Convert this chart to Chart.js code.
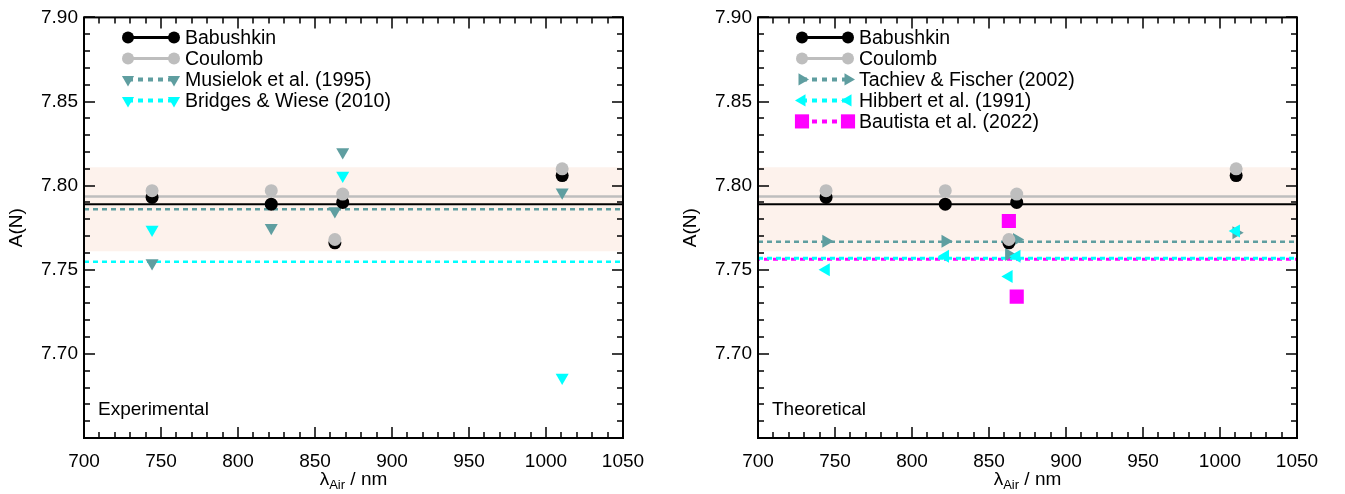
<!DOCTYPE html>
<html>
<head>
<meta charset="utf-8">
<title>A(N) by line</title>
<script src="https://cdn.jsdelivr.net/npm/chart.js@4.4.1/dist/chart.umd.min.js"></script>
<style>
  html, body { margin: 0; padding: 0; background: #fff; }
  #wrap { position: relative; width: 1345px; height: 494px; }
  canvas { position: absolute; top: 0; }
</style>
</head>
<body>
<div id="wrap">
  <canvas id="expChart" width="672" height="494" style="left:0"></canvas>
  <canvas id="theoChart" width="672" height="494" style="left:674px"></canvas>
</div>
<script>
// N I lines (air wavelength, nm)
const wavelengths = [744.2, 821.6, 862.9, 868.0, 1010.5];

// abundances per line from this work
const babushkin = [7.793, 7.789, 7.766, 7.790, 7.806];
const coulomb   = [7.797, 7.797, 7.768, 7.795, 7.810];

// experimental gf-values
const musielok = [7.754, 7.775, 7.785, 7.820, 7.796];
const bridgesWave = [744.2, 868.0, 1010.5];
const bridges = [7.774, 7.806, 7.686];

// theoretical gf-values
const tachiev = [7.767, 7.767, 7.759, 7.768, 7.772];
const hibbert = [7.750, 7.758, 7.746, 7.758, 7.773];
const bautistaWave = [862.9, 868.0];
const bautista = [7.779, 7.734];

// mean abundance of each set
const babushkinMean = 7.789;
const coulombMean = 7.7935;
const musielokMean = 7.786;
const bridgesMean = 7.7547;
const tachievMean = 7.7666;
const hibbertMean = 7.7568;
const bautistaMean = 7.7563;

// shaded uncertainty band
const bandRange = [7.761, 7.811];

// axes
const xRange = [700, 1050];
const yRange = [7.65, 7.90];
const xTickLabels = [700, 750, 800, 850, 900, 950, 1000, 1050];
const yTickLabels = [7.70, 7.75, 7.80, 7.85, 7.90];

const FONT = "'Liberation Sans', Arial, Helvetica, sans-serif";
const TEAL = '#5f9ea0';
const CYAN = '#00ffff';
const GREY = '#bebebe';
const MAGENTA = '#ff00ff';

Chart.defaults.font.family = FONT;
Chart.defaults.font.size = 19;
Chart.defaults.color = '#000';

function pts(xs, ys) {
  return xs.map((x, i) => ({ x: x, y: ys[i] }));
}

function level(v) {
  return [{ x: xRange[0], y: v }, { x: xRange[1], y: v }];
}

function meanLine(v, color, width, dash, offset) {
  return {
    data: level(v), showLine: true, borderColor: color, borderWidth: width,
    borderDash: dash || [], borderDashOffset: offset || 0,
    pointRadius: 0, order: 50
  };
}

function markers(xs, ys, color, style, radius, rotation, order) {
  return {
    data: pts(xs, ys), showLine: false, backgroundColor: color, borderWidth: 0,
    pointStyle: style, pointRadius: radius, pointRotation: rotation || 0,
    pointHoverRadius: radius, order: order
  };
}

const bandSet = {
  data: level(bandRange[1]), showLine: true, borderWidth: 0, pointRadius: 0,
  fill: { value: bandRange[0] }, backgroundColor: 'rgb(253,242,236)', order: 100
};

// box with inward ticks on all four sides
const framePlugin = {
  id: 'frame',
  afterDraw(chart) {
    const { ctx, chartArea: a, scales: { x, y } } = chart;
    ctx.save();
    ctx.strokeStyle = '#000';
    ctx.lineWidth = 1.5;
    ctx.beginPath();
    for (let v = xRange[0]; v <= xRange[1]; v += 10) {
      const px = Math.round(x.getPixelForValue(v));
      const len = v % 50 === 0 ? 11 : 6;
      ctx.moveTo(px, a.bottom); ctx.lineTo(px, a.bottom - len);
      ctx.moveTo(px, a.top); ctx.lineTo(px, a.top + len);
    }
    for (let i = 0; i <= 25; i++) {
      const py = Math.round(y.getPixelForValue(yRange[0] + i * 0.01));
      const len = i % 5 === 0 ? 11 : 6;
      ctx.moveTo(a.left, py); ctx.lineTo(a.left + len, py);
      ctx.moveTo(a.right, py); ctx.lineTo(a.right - len, py);
    }
    ctx.stroke();
    ctx.lineWidth = 2;
    ctx.strokeRect(a.left, a.top, a.right - a.left, a.bottom - a.top);
    ctx.restore();
  }
};

// legend rows, axis titles and the panel note
const notesPlugin = {
  id: 'notes',
  afterDraw(chart, args, opts) {
    const { ctx, chartArea: a } = chart;
    ctx.save();
    ctx.fillStyle = '#000';
    ctx.font = '19.5px ' + FONT;
    ctx.textBaseline = 'middle';

    opts.items.forEach((it, i) => {
      const yy = a.top + 20 + i * 21;
      const x0 = a.left + 44, x1 = a.left + 90;
      ctx.save();
      ctx.strokeStyle = it.color;
      ctx.lineWidth = it.width;
      ctx.setLineDash(it.dash || []);
      ctx.beginPath();
      ctx.moveTo(x0, yy); ctx.lineTo(x1, yy);
      ctx.stroke();
      ctx.setLineDash([]);
      ctx.fillStyle = it.color;
      [x0, x1].forEach(px => {
        Chart.helpers.drawPoint(ctx, {
          pointStyle: it.style, radius: it.radius, rotation: it.rotation || 0, borderWidth: 0
        }, px, yy);
      });
      ctx.restore();
      ctx.fillText(it.label, a.left + 101, yy + 1);
    });

    ctx.font = '19px ' + FONT;
    ctx.fillText(opts.note, a.left + 14, a.bottom - 28);

    // x title: lambda_Air / nm
    ctx.textBaseline = 'alphabetic';
    ctx.font = '19px ' + FONT;
    const cx = (a.left + a.right) / 2;
    const w1 = ctx.measureText('λ').width;
    const w3 = ctx.measureText(' / nm').width;
    ctx.font = '13px ' + FONT;
    const w2 = ctx.measureText('Air').width;
    let tx = cx - (w1 + w2 + w3) / 2;
    const by = 485;
    ctx.font = '19px ' + FONT;
    ctx.fillText('λ', tx, by);
    ctx.font = '13px ' + FONT;
    ctx.fillText('Air', tx + w1, by + 4);
    ctx.font = '19px ' + FONT;
    ctx.fillText(' / nm', tx + w1 + w2, by);

    // y title
    ctx.translate(a.left - 67, (a.top + a.bottom) / 2);
    ctx.rotate(-Math.PI / 2);
    ctx.textAlign = 'center';
    ctx.textBaseline = 'middle';
    ctx.fillText('A(N)', 0, 0);
    ctx.restore();
  }
};

function makeChart(id, datasets, items, note) {
  return new Chart(document.getElementById(id), {
    type: 'scatter',
    data: { datasets: datasets },
    options: {
      responsive: false,
      animation: false,
      devicePixelRatio: 1,
      layout: { padding: { top: 13, right: 49, left: 0, bottom: 0 } },
      scales: {
        x: {
          type: 'linear', min: xRange[0], max: xRange[1],
          grid: { display: false, drawTicks: false },
          border: { display: false },
          afterBuildTicks: s => { s.ticks = xTickLabels.map(v => ({ value: v })); },
          ticks: { maxRotation: 0, autoSkip: false, padding: 12, callback: v => String(v) },
          afterFit: s => { s.height = 56; }
        },
        y: {
          type: 'linear', min: yRange[0], max: yRange[1],
          grid: { display: false, drawTicks: false },
          border: { display: false },
          afterBuildTicks: s => { s.ticks = yTickLabels.map(v => ({ value: v })); },
          ticks: { padding: 6, callback: v => v.toFixed(2) },
          afterFit: s => { s.width = 84; }
        }
      },
      plugins: {
        legend: { display: false },
        tooltip: { enabled: false },
        notes: { items: items, note: note }
      }
    },
    plugins: [framePlugin, notesPlugin]
  });
}

const expChart = makeChart('expChart', [
  bandSet,
  meanLine(coulombMean, GREY, 2.5),
  meanLine(babushkinMean, '#000', 2),
  meanLine(musielokMean, TEAL, 2.5, [5, 4]),
  meanLine(bridgesMean, CYAN, 2.5, [5, 4]),
  markers(wavelengths, coulomb, GREY, 'circle', 6.5, 0, 1),
  markers(wavelengths, babushkin, '#000', 'circle', 6.5, 0, 2),
  markers(wavelengths, musielok, TEAL, 'triangle', 7.5, 180, 4),
  markers(bridgesWave, bridges, CYAN, 'triangle', 7.5, 180, 3)
], [
  { label: 'Babushkin', color: '#000', width: 3, style: 'circle', radius: 6 },
  { label: 'Coulomb', color: GREY, width: 3, style: 'circle', radius: 6 },
  { label: 'Musielok et al. (1995)', color: TEAL, width: 4, dash: [5, 5], style: 'triangle', radius: 7, rotation: 180 },
  { label: 'Bridges & Wiese (2010)', color: CYAN, width: 4, dash: [5, 5], style: 'triangle', radius: 7, rotation: 180 }
], 'Experimental');

const theoChart = makeChart('theoChart', [
  bandSet,
  meanLine(coulombMean, GREY, 2.5),
  meanLine(babushkinMean, '#000', 2),
  meanLine(tachievMean, TEAL, 2.5, [5, 4]),
  meanLine(hibbertMean, CYAN, 3, [5, 4]),
  meanLine(bautistaMean, MAGENTA, 3, [5, 4], 3),
  markers(wavelengths, coulomb, GREY, 'circle', 6.5, 0, 1),
  markers(wavelengths, babushkin, '#000', 'circle', 6.5, 0, 2),
  markers(wavelengths, hibbert, CYAN, 'triangle', 7.5, 270, 3),
  markers(wavelengths, tachiev, TEAL, 'triangle', 7.5, 90, 4),
  markers(bautistaWave, bautista, MAGENTA, 'rect', 10, 0, 5)
], [
  { label: 'Babushkin', color: '#000', width: 3, style: 'circle', radius: 6 },
  { label: 'Coulomb', color: GREY, width: 3, style: 'circle', radius: 6 },
  { label: 'Tachiev & Fischer (2002)', color: TEAL, width: 4, dash: [5, 5], style: 'triangle', radius: 7, rotation: 90 },
  { label: 'Hibbert et al. (1991)', color: CYAN, width: 4, dash: [5, 5], style: 'triangle', radius: 7, rotation: 270 },
  { label: 'Bautista et al. (2022)', color: MAGENTA, width: 4, dash: [5, 5], style: 'rect', radius: 10 }
], 'Theoretical');
</script>
</body>
</html>
